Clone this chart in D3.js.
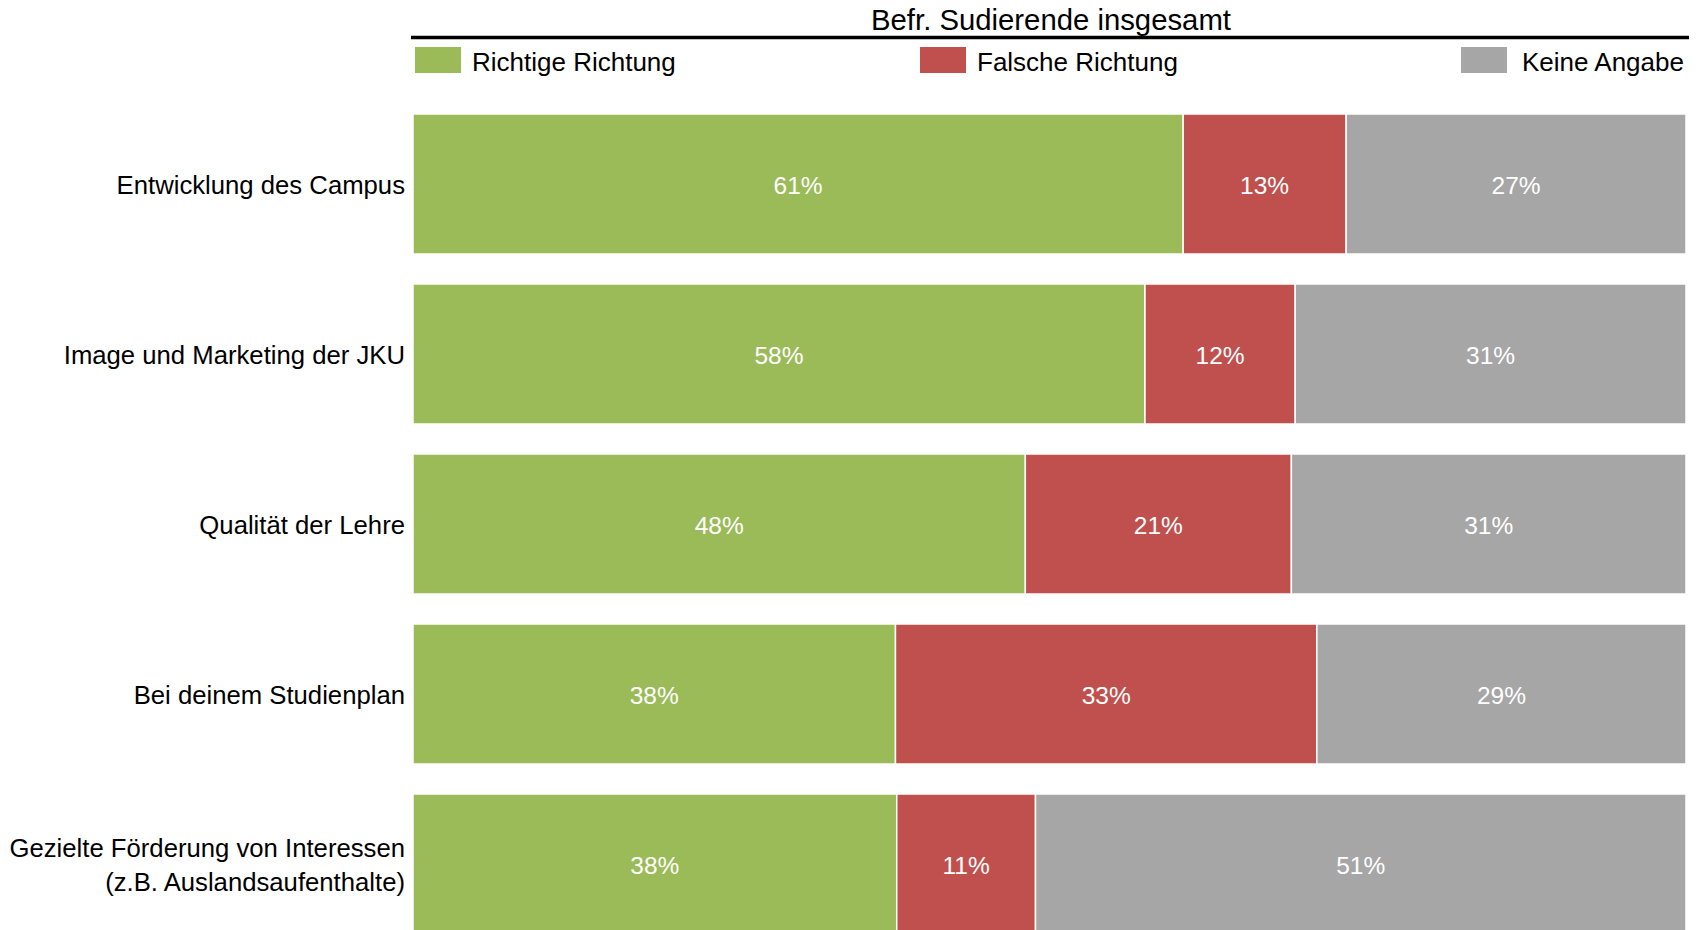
<!DOCTYPE html>
<html>
<head>
<meta charset="utf-8">
<script src="https://cdn.jsdelivr.net/npm/d3@7"></script>
<style>
  body { margin: 0; background: #fff; }
  text { font-family: "Liberation Sans", Arial, sans-serif; }
</style>
</head>
<body>
<div class="chart"></div>
<script>
// data
var categories = [
  "Entwicklung des Campus",
  "Image und Marketing der JKU",
  "Qualität der Lehre",
  "Bei deinem Studienplan",
  "Gezielte Förderung von Interessen\n(z.B. Auslandsaufenthalte)"
];
var seriesNames = ["Richtige Richtung", "Falsche Richtung", "Keine Angabe"];
var richtig = [60.5, 57.5, 48.1, 37.9, 38.0];
var falsch = [12.8, 11.8, 20.9, 33.1, 10.9];
var keine = [26.7, 30.7, 31.0, 29.0, 51.1];
var colors = ["#9BBB59", "#C0504D", "#A6A6A6"];
var title = "Befr. Sudierende insgesamt";

var svgWidth = 1696;
var svgHeight = 930;

var svg = d3.select(".chart")
  .append("svg")
  .attr("width", svgWidth)
  .attr("height", svgHeight);

// build rows for stacking
var rows = categories.map(function(c, i) {
  return { cat: c, "Richtige Richtung": richtig[i], "Falsche Richtung": falsch[i], "Keine Angabe": keine[i] };
});
var stacked = d3.stack().keys(seriesNames)(rows);

var xScale = d3.scaleLinear()
  .domain([0, 100])
  .range([413, 1686]);

var yScale = d3.scaleBand()
  .domain(categories)
  .range([99, 949])
  .paddingInner(30 / 170)
  .paddingOuter(15 / 170);

var color = d3.scaleOrdinal().domain(seriesNames).range(colors);

// title + line
svg.append("text")
  .attr("x", 1051)
  .attr("y", 30)
  .attr("text-anchor", "middle")
  .attr("font-size", "29.3px")
  .attr("fill", "#000")
  .text(title);

svg.append("line")
  .attr("x1", 411).attr("x2", 1689)
  .attr("y1", 37.5).attr("y2", 37.5)
  .attr("stroke", "#000")
  .attr("stroke-width", 3.5);

// legend
var legendX = [415, 920, 1461];
var legend = svg.selectAll(".legend")
  .data(seriesNames)
  .enter()
  .append("g")
  .attr("class", "legend")
  .attr("transform", (d, i) => `translate(${legendX[i]}, 47)`);

legend.append("rect")
  .attr("width", 46)
  .attr("height", 26)
  .attr("fill", d => color(d));

legend.append("text")
  .attr("x", (d, i) => i == 2 ? 61 : 57)
  .attr("y", 23.5)
  .attr("font-size", "26px")
  .attr("fill", "#000")
  .text(d => d);

// bars
var layers = svg.selectAll(".layer")
  .data(stacked)
  .enter()
  .append("g")
  .attr("class", "layer")
  .attr("fill", d => color(d.key));

layers.selectAll("rect")
  .data(d => d)
  .enter()
  .append("rect")
  .attr("x", d => xScale(d[0]))
  .attr("y", d => yScale(d.data.cat))
  .attr("width", d => xScale(d[1]) - xScale(d[0]))
  .attr("height", yScale.bandwidth())
  .attr("stroke", "#fff")
  .attr("stroke-width", 1.5);

layers.selectAll(".val")
  .data(d => d)
  .enter()
  .append("text")
  .attr("class", "val")
  .attr("x", d => (xScale(d[0]) + xScale(d[1])) / 2)
  .attr("y", d => yScale(d.data.cat) + yScale.bandwidth() / 2 + 1.5)
  .attr("dy", "0.35em")
  .attr("text-anchor", "middle")
  .attr("font-size", "24.5px")
  .attr("fill", "#fff")
  .text(d => Math.round(d[1] - d[0]) + "%");

// category labels
var labels = svg.selectAll(".cat")
  .data(categories)
  .enter()
  .append("text")
  .attr("class", "cat")
  .attr("text-anchor", "end")
  .attr("font-size", "25.7px")
  .attr("fill", "#000")
  .attr("y", d => yScale(d) + yScale.bandwidth() / 2);

labels.each(function(d) {
  var lines = d.split("\n");
  var t = d3.select(this);
  lines.forEach(function(line, j) {
    t.append("tspan")
      .attr("x", 405)
      .attr("y", yScale(d) + yScale.bandwidth() / 2 + 1 + (j - (lines.length - 1) / 2) * 34.5)
      .attr("dy", "0.35em")
      .text(line);
  });
});
</script>
</body>
</html>
